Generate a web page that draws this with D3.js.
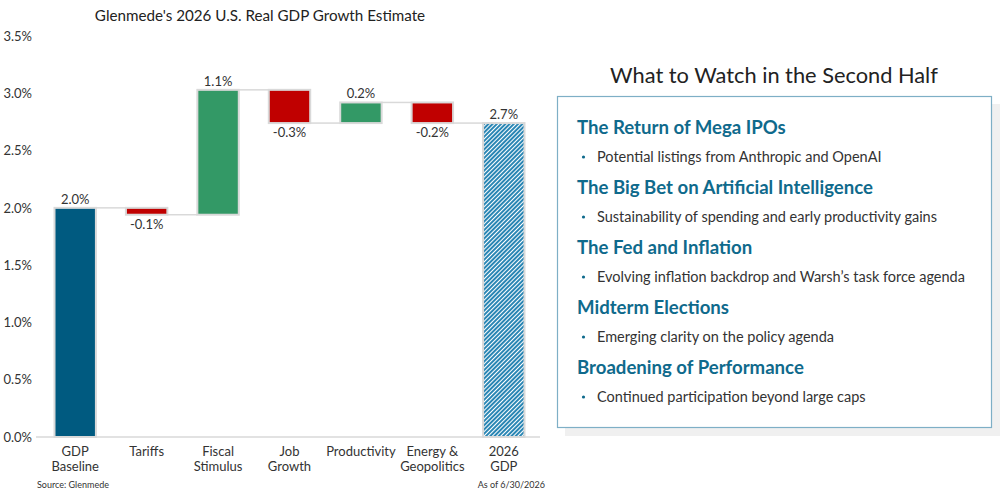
<!DOCTYPE html>
<html>
<head>
<meta charset="utf-8">
<script src="https://cdn.jsdelivr.net/npm/d3@7"></script>
<style>
  body { margin: 0; background: #fff; font-family: Lato, "Open Sans", sans-serif; }
  svg { display: block; }
</style>
</head>
<body>
<svg id="chart" width="1000" height="496"></svg>
<script>
// waterfall data
var categories = [["GDP", "Baseline"], ["Tariffs"], ["Fiscal", "Stimulus"], ["Job", "Growth"], ["Productivity"], ["Energy &", "Geopolitics"], ["2026", "GDP"]];
var changes = [2.0, -0.06, 1.09, -0.29, 0.18, -0.18, 2.74];
var kinds = ["total", "step", "step", "step", "step", "step", "final"];
var yTicks = [0, 0.5, 1.0, 1.5, 2.0, 2.5, 3.0, 3.5];

var watchHeads = ["The Return of Mega IPOs", "The Big Bet on Artificial Intelligence", "The Fed and Inflation", "Midterm Elections", "Broadening of Performance"];
var watchNotes = ["Potential listings from Anthropic and OpenAI", "Sustainability of spending and early productivity gains", "Evolving inflation backdrop and Warsh\u2019s task force agenda", "Emerging clarity on the policy agenda", "Continued participation beyond large caps"];

var colors = {total: "#005a80", up: "#339966", down: "#c00000", edge: "#d9d9d9", text: "#333"};
var fmt = d3.format(".1f");
var num_format = function(v) { return fmt(v).replace("\u2212", "-"); };

var svg = d3.select("#chart");
var defs = svg.append("defs");
var pat = defs.append("pattern")
    .attr("id", "hatch")
    .attr("patternUnits", "userSpaceOnUse")
    .attr("width", 3).attr("height", 3)
    .attr("patternTransform", "rotate(45)");
pat.append("rect").attr("width", 3).attr("height", 3).attr("fill", "#fff");
pat.append("rect").attr("width", 2).attr("height", 3).attr("fill", "#2a86b4");

// build waterfall steps
var run = 0;
var steps = changes.map(function(v, i) {
    var d = {i: i, v: v, kind: kinds[i]};
    if (kinds[i] === "step") {
        d.y0 = run; d.y1 = run + v; run = run + v;
    } else {
        d.y0 = 0; d.y1 = v; run = v;
    }
    return d;
});

var x = d3.scaleBand()
    .domain(d3.range(categories.length))
    .range([39.5, 539.5])
    .paddingInner(0.42)
    .paddingOuter(0.21);

var y = d3.scaleLinear()
    .domain([0, 3.5])
    .range([437, 36]);

// axis labels
var yAxis = d3.axisLeft(y)
    .tickValues(yTicks)
    .tickFormat(function(d) { return num_format(d) + "%"; })
    .tickSize(0)
    .tickPadding(0);

svg.append("g")
    .attr("class", "y axis")
    .attr("transform", "translate(32,0)")
    .call(yAxis)
    .call(function(g) { g.select(".domain").remove(); })
    .selectAll("text")
    .attr("fill", colors.text)
    .style("font-size", "13px")
    .style("font-family", "Lato");

svg.append("line")
    .attr("x1", 36).attr("x2", 540)
    .attr("y1", y(0)).attr("y2", y(0))
    .attr("stroke", "#d9d9d9").attr("stroke-width", 1.5);

// connectors
svg.append("g").selectAll("line")
    .data(steps.slice(0, -1))
    .enter().append("line")
    .attr("x1", function(d) { return x(d.i) + x.bandwidth(); })
    .attr("x2", function(d) { return x(d.i + 1); })
    .attr("y1", function(d) { return y(d.kind === "step" ? d.y1 : d.v); })
    .attr("y2", function(d) { return y(d.kind === "step" ? d.y1 : d.v); })
    .attr("stroke", "#d9d9d9").attr("stroke-width", 1.5);

// bars
svg.append("g").selectAll("rect")
    .data(steps)
    .enter().append("rect")
    .attr("x", function(d) { return x(d.i); })
    .attr("width", x.bandwidth())
    .attr("y", function(d) { return y(Math.max(d.y0, d.y1)); })
    .attr("height", function(d) { return Math.abs(y(d.y0) - y(d.y1)); })
    .attr("fill", function(d) {
        if (d.kind === "total") return colors.total;
        if (d.kind === "final") return "url(#hatch)";
        return d.v >= 0 ? colors.up : colors.down;
    })
    .attr("stroke", colors.edge)
    .attr("stroke-width", 2);

// value labels
svg.append("g").selectAll("text")
    .data(steps)
    .enter().append("text")
    .attr("x", function(d) { return x(d.i) + x.bandwidth() / 2; })
    .attr("y", function(d) {
        return d.v >= 0 ? y(Math.max(d.y0, d.y1)) - 4 : y(Math.min(d.y0, d.y1)) + 14;
    })
    .attr("text-anchor", "middle")
    .attr("fill", colors.text)
    .style("font-size", "13px")
    .text(function(d) { return num_format(d.v) + "%"; });

// category labels
var cats = svg.append("g").selectAll("text")
    .data(categories)
    .enter().append("text")
    .attr("x", function(d, i) { return x(i) + x.bandwidth() / 2; })
    .attr("y", 456)
    .attr("text-anchor", "middle")
    .attr("fill", colors.text)
    .style("font-size", "13px");
cats.selectAll("tspan")
    .data(function(d) { return d; })
    .enter().append("tspan")
    .attr("x", function() { return d3.select(this.parentNode).attr("x"); })
    .attr("dy", function(d, j) { return j === 0 ? 0 : 15; })
    .text(function(d) { return d; });

svg.append("text")
    .attr("x", 260).attr("y", 21)
    .attr("text-anchor", "middle")
    .attr("fill", "#222")
    .style("font-size", "15.2px")
    .text("Glenmede's 2026 U.S. Real GDP Growth Estimate");

svg.append("text")
    .attr("x", 37).attr("y", 488)
    .attr("fill", colors.text)
    .style("font-size", "9px")
    .text("Source: Glenmede");

svg.append("text")
    .attr("x", 545).attr("y", 488)
    .attr("text-anchor", "end")
    .attr("fill", colors.text)
    .style("font-size", "9px")
    .text("As of 6/30/2026");

// right panel
svg.append("text")
    .attr("x", 774).attr("y", 83)
    .attr("text-anchor", "middle")
    .attr("fill", "#222")
    .style("font-size", "21.8px")
    .text("What to Watch in the Second Half");

svg.append("rect")
    .attr("x", 565).attr("y", 104)
    .attr("width", 440).attr("height", 332)
    .attr("fill", "#f0f0f0");

svg.append("rect")
    .attr("x", 557.5).attr("y", 96.5)
    .attr("width", 434).attr("height", 331)
    .attr("fill", "#fff")
    .attr("stroke", "#7eafc6")
    .attr("stroke-width", 1.2);

var items = svg.append("g").selectAll("g")
    .data(watchHeads)
    .enter().append("g")
    .attr("transform", function(d, i) { return "translate(577," + (134 + i * 60) + ")"; });

items.append("text")
    .attr("fill", "#0f6a8c")
    .style("font-size", "18.6px")
    .style("font-weight", "bold")
    .text(function(d) { return d; });

items.append("circle")
    .attr("cx", 6.5).attr("cy", 23)
    .attr("r", 1.6)
    .attr("fill", "#0f6a8c");

items.append("text")
    .attr("x", 20).attr("y", 28)
    .attr("fill", colors.text)
    .style("font-size", "14.5px")
    .text(function(d, i) { return watchNotes[i]; });
</script>
</body>
</html>
